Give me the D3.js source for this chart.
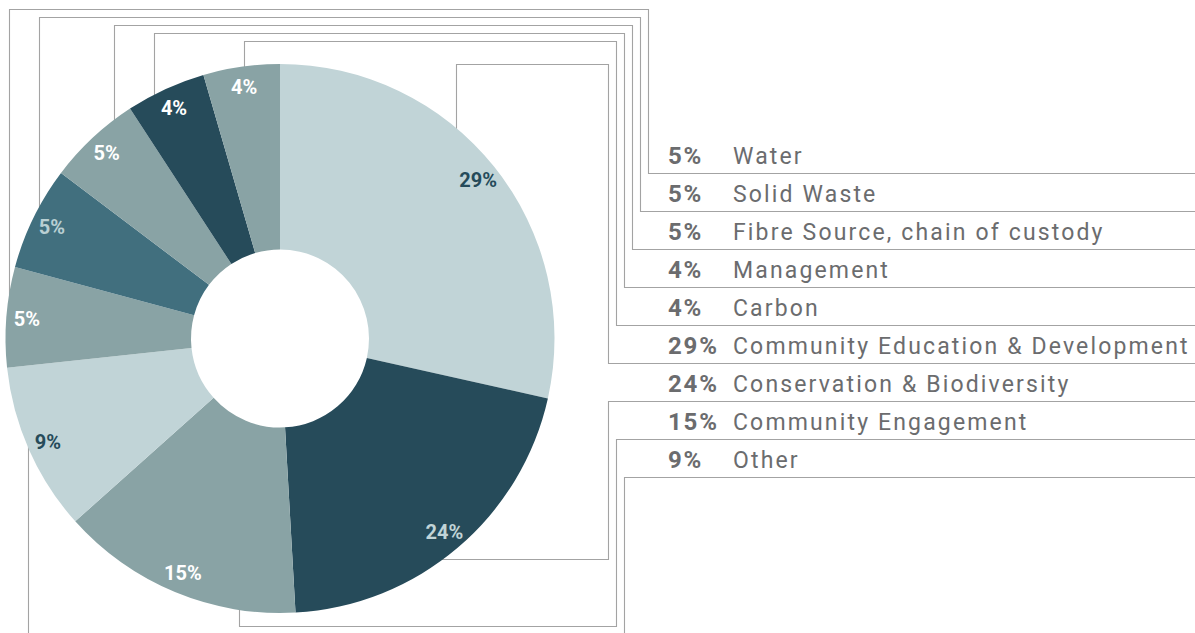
<!DOCTYPE html>
<html><head><meta charset="utf-8">
<script src="https://cdn.jsdelivr.net/npm/d3@7"></script>
<style>
html,body{margin:0;padding:0;background:#fff;}
svg{display:block;}
</style></head><body>
<svg id="chart" width="1195" height="633"></svg>
<script>
// ---------- data ----------
const categories = ["Community Education & Development","Conservation & Biodiversity","Community Engagement","Other","Water","Solid Waste","Fibre Source, chain of custody","Management","Carbon"];
// slice sizes as drawn in the picture (share of the full circle)
const shares = [28.5, 20.6, 14.3, 9.9, 5.9, 6.1, 5.5, 4.7, 4.5];
// printed percentage labels
const percentLabels = ["29%","24%","15%","9%","5%","5%","5%","4%","4%"];
// legend order, top to bottom
const legendOrder = ["Water","Solid Waste","Fibre Source, chain of custody","Management","Carbon","Community Education & Development","Conservation & Biodiversity","Community Engagement","Other"];

// ---------- styling / layout ----------
const LIGHT="#c1d4d7", DARK="#264b5a", MID="#89a3a5", TEAL="#416f7e";
const sliceColors = [LIGHT, DARK, MID, LIGHT, MID, TEAL, MID, DARK, MID];
const labelColors = [DARK, LIGHT, "#ffffff", DARK, "#ffffff", "#b9cfd3", "#ffffff", "#ffffff", "#ffffff"];
const leaderFrac = [0.39, 0.55, 0.23, 0.52, 0.73, 0.62, 0.80, 0.34, 0.53];

const W = 1195, H = 633;
const cx = 280, cy = 338.5, R = 274.5, r0 = 89, labelR = 254;
const LINE = "#a3a3a3", TEXT = "#6b6c6e";

const svg = d3.select("#chart");
const gLines = svg.append("g").attr("fill","none").attr("stroke",LINE).attr("stroke-width",1.1);
const gPie = svg.append("g").attr("transform",`translate(${cx},${cy})`);

const pie = d3.pie().sort(null).value(d => d);
const arcs = pie(shares);
const arc = d3.arc().innerRadius(r0).outerRadius(R);
const labelArc = d3.arc().innerRadius(labelR).outerRadius(labelR);

gPie.selectAll("path").data(arcs).join("path")
  .attr("d", arc)
  .attr("fill", (d,i) => sliceColors[i]);

gPie.selectAll("text").data(arcs).join("text")
  .attr("transform", d => `translate(${labelArc.centroid(d)})`)
  .attr("text-anchor","middle")
  .attr("dominant-baseline","central")
  .attr("font-family","Roboto, 'DejaVu Sans', sans-serif")
  .attr("font-weight",700)
  .attr("font-size",20)
  .attr("fill",(d,i) => labelColors[i])
  .text((d,i) => percentLabels[i]);

// legend rows
const rowY = d3.scaleLinear().domain([0, legendOrder.length - 1]).range([173, 477]);
const colX = li => 648 - 8 * (li < 6 ? li : 11 - li);
const topY = li => li < 5 ? 9 + 8 * li : 64;

const gLegend = svg.append("g").attr("font-family","Roboto, 'DejaVu Sans', sans-serif").attr("fill",TEXT);

legendOrder.forEach((name, li) => {
  const i = categories.indexOf(name);
  const a = arcs[i];
  const ang = a.startAngle + (a.endAngle - a.startAngle) * leaderFrac[i];
  const ax = cx + R * Math.sin(ang), ay = cy - R * Math.cos(ang);
  const uy = Math.round(rowY(li)) + 0.5;
  const x = Math.round(colX(li)) + 0.5;
  const p = d3.path();
  if (li < 6) {
    const vx = Math.round(ax) + 0.5;
    p.moveTo(vx, ay + 6);
    p.lineTo(vx, topY(li) + 0.5);
    p.lineTo(x, topY(li) + 0.5);
  } else if (li === 6) {
    const hy = Math.round(ay) + 0.5;
    p.moveTo(ax - 6, hy);
    p.lineTo(x, hy);
  } else {
    const vx = Math.round(ax) + 0.5;
    const by = li === 7 ? 626.5 : 660;
    p.moveTo(vx, ay - 6);
    p.lineTo(vx, by);
    p.lineTo(x, by);
  }
  p.lineTo(x, uy);
  p.lineTo(W, uy);
  gLines.append("path").attr("d", p.toString());

  gLegend.append("text")
    .attr("x", 668).attr("y", uy - 10)
    .attr("font-weight", 700).attr("font-size", 24).attr("letter-spacing", 1.8)
    .text(percentLabels[i]);
  gLegend.append("text")
    .attr("x", 733).attr("y", uy - 10)
    .attr("font-weight", 400).attr("font-size", 23).attr("letter-spacing", 2.15)
    .text(name);
});
</script>
</body></html>
